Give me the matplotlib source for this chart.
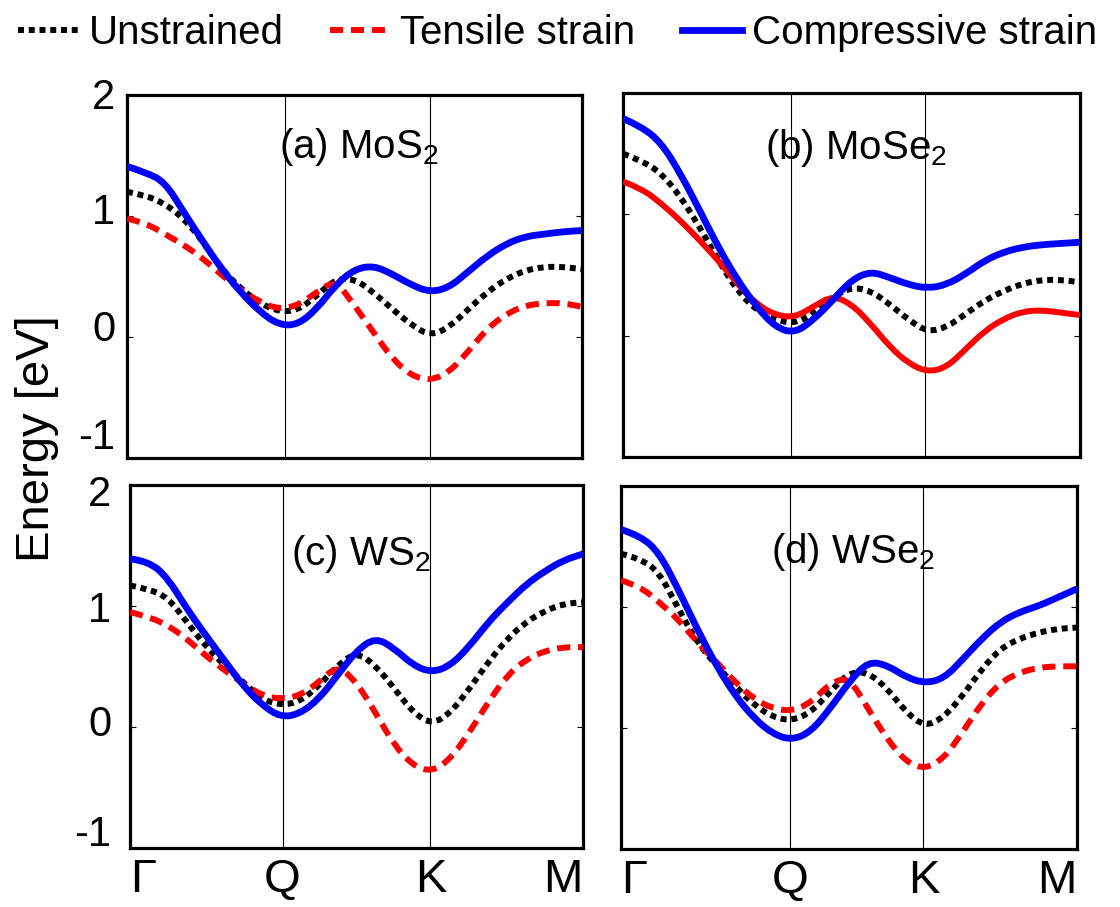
import matplotlib
matplotlib.use("Agg")
import matplotlib.pyplot as plt
from matplotlib.lines import Line2D
from matplotlib.path import Path
from matplotlib.patches import PathPatch

# k-path sampling (Γ = 0, M = 3)
k_path = [0.0, 0.125, 0.25, 0.375, 0.5, 0.625, 0.75, 0.875, 1.0, 1.125, 1.25, 1.375,
          1.5, 1.625, 1.75, 1.875, 2.0, 2.125, 2.25, 2.375, 2.5, 2.625, 2.75, 2.875, 3.0]

# high-symmetry points per panel
q_pos = [1.04, 1.10, 1.01, 1.11]
k_pos = [2.00, 1.98, 1.99, 1.99]
point_labels = ['Γ', 'Q', 'K', 'M']
energy_ticks = [-1, 0, 1, 2]

# (a) MoS2
mos2_unstrained = [1.20, 1.17, 1.10, 0.98, 0.79, 0.56, 0.40, 0.28, 0.21, 0.22, 0.34, 0.48,
                   0.48, 0.37, 0.23, 0.10, 0.01, 0.08, 0.23, 0.37, 0.48, 0.55, 0.58, 0.58, 0.56]
mos2_tensile = [0.98, 0.94, 0.85, 0.76, 0.65, 0.51, 0.39, 0.29, 0.23, 0.26, 0.37, 0.47,
                0.26, 0.04, -0.18, -0.32, -0.36, -0.29, -0.12, 0.07, 0.19, 0.26, 0.28, 0.28, 0.25]
mos2_compressive = [1.41, 1.36, 1.28, 1.03, 0.79, 0.56, 0.37, 0.21, 0.10, 0.10, 0.23, 0.43,
                    0.56, 0.59, 0.52, 0.43, 0.37, 0.41, 0.54, 0.67, 0.77, 0.83, 0.85, 0.87, 0.88]

# (b) MoSe2
mose2_unstrained = [1.50, 1.44, 1.34, 1.15, 0.90, 0.62, 0.37, 0.21, 0.13, 0.10, 0.18, 0.32,
                    0.40, 0.37, 0.26, 0.13, 0.03, 0.07, 0.18, 0.29, 0.37, 0.43, 0.46, 0.46, 0.44]
mose2_tensile = [1.27, 1.21, 1.09, 0.95, 0.79, 0.62, 0.43, 0.26, 0.17, 0.15, 0.24, 0.33,
                 0.26, 0.10, -0.09, -0.23, -0.30, -0.26, -0.11, 0.04, 0.14, 0.20, 0.21, 0.19, 0.17]
mose2_compressive = [1.79, 1.72, 1.59, 1.34, 1.04, 0.73, 0.46, 0.24, 0.07, 0.02, 0.13, 0.29,
                     0.46, 0.53, 0.48, 0.42, 0.39, 0.42, 0.51, 0.62, 0.69, 0.73, 0.75, 0.76, 0.77]

# (c) WS2
ws2_unstrained = [1.17, 1.14, 1.07, 0.87, 0.67, 0.51, 0.37, 0.23, 0.18, 0.21, 0.34, 0.51,
                  0.62, 0.51, 0.32, 0.12, 0.02, 0.12, 0.32, 0.54, 0.73, 0.87, 0.96, 1.02, 1.03]
ws2_tensile = [0.95, 0.91, 0.84, 0.73, 0.59, 0.47, 0.36, 0.26, 0.23, 0.26, 0.37, 0.51,
               0.37, 0.12, -0.15, -0.32, -0.37, -0.26, -0.04, 0.21, 0.43, 0.56, 0.63, 0.66, 0.66]
ws2_compressive = [1.39, 1.37, 1.23, 0.98, 0.76, 0.55, 0.34, 0.18, 0.08, 0.11, 0.23, 0.43,
                   0.63, 0.74, 0.65, 0.51, 0.45, 0.51, 0.67, 0.87, 1.03, 1.18, 1.29, 1.38, 1.43]

# (d) WSe2
wse2_unstrained = [1.44, 1.40, 1.29, 0.99, 0.71, 0.52, 0.35, 0.19, 0.09, 0.06, 0.13, 0.30,
                   0.46, 0.46, 0.33, 0.13, 0.01, 0.09, 0.27, 0.49, 0.66, 0.74, 0.79, 0.82, 0.83]
wse2_tensile = [1.22, 1.17, 1.04, 0.90, 0.71, 0.55, 0.38, 0.24, 0.16, 0.14, 0.21, 0.37,
                0.42, 0.16, -0.09, -0.28, -0.34, -0.25, -0.03, 0.21, 0.38, 0.46, 0.50, 0.51, 0.51]
wse2_compressive = [1.64, 1.59, 1.45, 1.15, 0.82, 0.52, 0.27, 0.08, -0.05, -0.10, -0.03, 0.16,
                    0.38, 0.55, 0.52, 0.42, 0.37, 0.41, 0.57, 0.74, 0.88, 0.96, 1.01, 1.08, 1.15]

titles = ['(a) MoS$_\\mathregular{2}$', '(b) MoSe$_\\mathregular{2}$',
          '(c) WS$_\\mathregular{2}$', '(d) WSe$_\\mathregular{2}$']
panels = [
    (mos2_unstrained, mos2_tensile, mos2_compressive),
    (mose2_unstrained, mose2_tensile, mose2_compressive),
    (ws2_unstrained, ws2_tensile, ws2_compressive),
    (wse2_unstrained, wse2_tensile, wse2_compressive),
]

plt.rcParams.update({
    'font.family': ['Liberation Sans', 'DejaVu Sans'],
    'axes.unicode_minus': False,
    'mathtext.default': 'regular',
})

BLACK = '#000000'
RED = '#ff0000'
BLUE = '#0000ff'
LW = 4.3
DOTS = (0, (1.0, 0.8))
DASHES = (0, (2.2, 1.3))


def smooth_band(ax, xs, ys, **kw):
    """Draw the sampled band as a quadratic-Bezier path (smooth rendering)."""
    pts = list(zip(xs, ys))
    verts = [pts[0]]
    codes = [Path.MOVETO]
    for j in range(1, len(pts) - 1):
        mid = ((pts[j][0] + pts[j + 1][0]) / 2, (pts[j][1] + pts[j + 1][1]) / 2)
        verts += [pts[j], mid]
        codes += [Path.CURVE3, Path.CURVE3]
    verts.append(pts[-1])
    codes.append(Path.LINETO)
    patch = PathPatch(Path(verts, codes), fill=False, **kw)
    ax.add_patch(patch)


fig = plt.figure(figsize=(11.2, 9.07), dpi=100)

# axes rectangles [left, bottom, width, height] in figure fraction
rects = [
    [0.1134, 0.4950, 0.4062, 0.4003],
    [0.5563, 0.4961, 0.4080, 0.4014],
    [0.1161, 0.0650, 0.4044, 0.4003],
    [0.5545, 0.0639, 0.4071, 0.4003],
]
title_y = [0.826, 0.82, 0.78, 0.788]
# pixel nudges of the energy labels (up positive), top row / bottom row
label_nudge = {0: [20, 7, 3, -3], 2: [13, 2, -5, -10]}
label_pad = {0: 12, 2: 19}

for i, (rect, (unstr, tens, comp)) in enumerate(zip(rects, panels)):
    ax = fig.add_axes(rect)
    ax.axvline(q_pos[i], color='black', lw=0.8, zorder=1)
    ax.axvline(k_pos[i], color='black', lw=0.8, zorder=1)

    smooth_band(ax, k_path, unstr, edgecolor=BLACK, lw=LW, ls=DOTS,
                capstyle='butt', zorder=3)
    if i == 1:
        smooth_band(ax, k_path, tens, edgecolor=RED, lw=LW, capstyle='butt', zorder=3)
    else:
        smooth_band(ax, k_path, tens, edgecolor=RED, lw=LW, ls=DASHES,
                    capstyle='butt', zorder=3)
    smooth_band(ax, k_path, comp, edgecolor=BLUE, lw=LW + 0.6, capstyle='butt', zorder=4)

    ax.set_xlim(0, 3)
    ax.set_ylim(-1, 2)
    ax.set_yticks(energy_ticks)
    ax.tick_params(axis='y', direction='in', length=4, width=0.8, right=True,
                   labelleft=False)
    for s in ax.spines.values():
        s.set_linewidth(2.3)

    if i % 2 == 0:
        for v, dy in zip(energy_ticks, label_nudge[i]):
            ax.annotate(str(v), xy=(0, v), xycoords=('axes fraction', 'data'),
                        xytext=(-label_pad[i] * 0.72, dy * 0.72),
                        textcoords='offset points', ha='right', va='center',
                        fontsize=30, annotation_clip=False)

    if i >= 2:
        ax.set_xticks([0, q_pos[i], k_pos[i], 3])
        ax.set_xticklabels(point_labels, fontsize=34)
        ax.tick_params(axis='x', length=0, pad=7)
        tl = ax.get_xticklabels()
        tl[0].set_ha('left')
        tl[-1].set_ha('right')
    else:
        ax.set_xticks([])

    ax.text(0.51, title_y[i], titles[i], transform=ax.transAxes, fontsize=29,
            ha='center', va='baseline')

fig.text(0.033, 0.516, 'Energy [eV]', rotation=90, fontsize=34,
         ha='center', va='center')

handles = [
    Line2D([], [], color=BLACK, lw=LW, ls=DOTS, dash_capstyle='butt'),
    Line2D([], [], color=RED, lw=LW, ls=DASHES, dash_capstyle='butt'),
    Line2D([], [], color=BLUE, lw=LW + 0.6),
]
fig.legend(handles, ['Unstrained', 'Tensile strain', 'Compressive strain'],
           loc='center left', bbox_to_anchor=(0.016, 0.964), ncol=3, frameon=False,
           fontsize=29, handlelength=1.5, handletextpad=0.25, columnspacing=1.15,
           borderpad=0, borderaxespad=0)

fig.savefig('out.png', dpi=100, facecolor='white')
